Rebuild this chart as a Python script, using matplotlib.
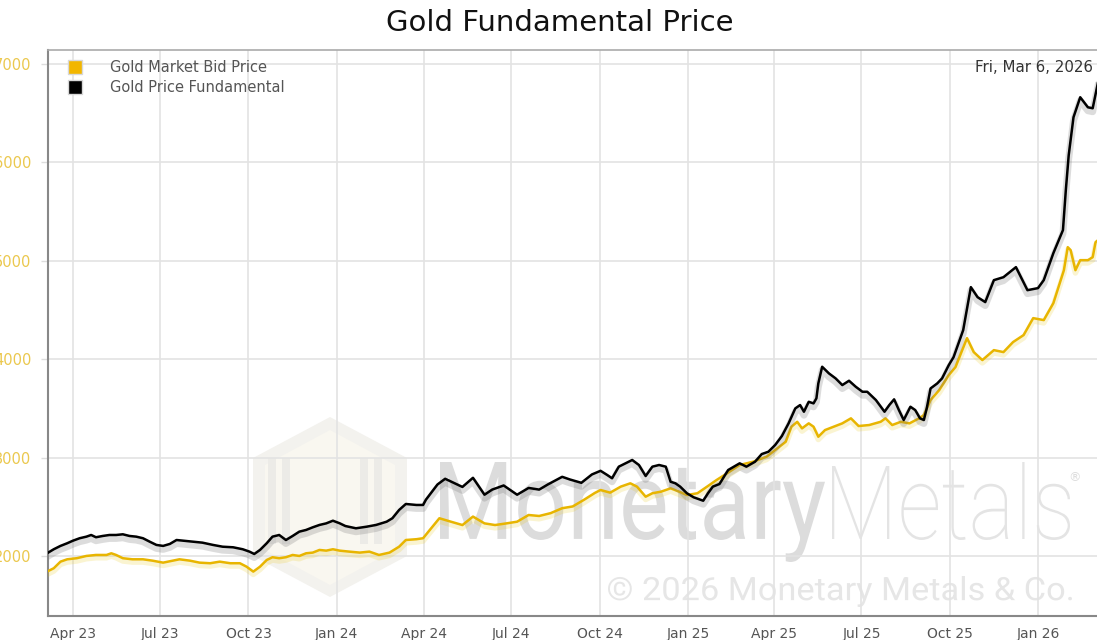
import numpy as np
import pandas as pd
import matplotlib
matplotlib.use("Agg")
import matplotlib.pyplot as plt
import matplotlib.dates as mdates
import matplotlib.patheffects as pe
from matplotlib.textpath import TextPath
from matplotlib.font_manager import FontProperties
from matplotlib.patches import PathPatch, Polygon, Rectangle
from matplotlib.transforms import Affine2D
from matplotlib.lines import Line2D

# --- data (weekly-ish samples) ---
fund_dates = [
    "2023-03-05", "2023-03-12", "2023-03-19", "2023-03-26", "2023-04-01", "2023-04-08", "2023-04-15",
    "2023-04-20", "2023-04-25", "2023-05-02", "2023-05-09", "2023-05-16", "2023-05-23", "2023-05-30",
    "2023-06-06", "2023-06-13", "2023-06-20", "2023-06-27", "2023-07-04", "2023-07-11", "2023-07-18",
    "2023-07-25", "2023-08-04", "2023-08-14", "2023-08-25", "2023-09-04", "2023-09-15", "2023-09-25",
    "2023-10-02", "2023-10-07", "2023-10-13", "2023-10-20", "2023-10-26", "2023-11-02", "2023-11-09",
    "2023-11-16", "2023-11-23", "2023-11-30", "2023-12-07", "2023-12-14", "2023-12-21", "2023-12-28",
    "2024-01-04", "2024-01-10", "2024-01-21", "2024-02-01", "2024-02-11", "2024-02-22", "2024-02-28",
    "2024-03-06", "2024-03-13", "2024-03-24", "2024-03-31", "2024-04-03", "2024-04-15", "2024-04-23",
    "2024-05-02", "2024-05-11", "2024-05-22", "2024-06-03", "2024-06-11", "2024-06-23", "2024-07-07",
    "2024-07-19", "2024-07-30", "2024-08-08", "2024-08-23", "2024-08-31", "2024-09-12", "2024-09-23",
    "2024-10-02", "2024-10-09", "2024-10-14", "2024-10-21", "2024-10-28", "2024-11-04", "2024-11-11",
    "2024-11-18", "2024-11-25", "2024-12-02", "2024-12-09", "2024-12-14", "2024-12-19", "2024-12-24",
    "2024-12-31", "2025-01-07", "2025-01-17", "2025-01-22", "2025-01-27", "2025-02-03", "2025-02-12",
    "2025-02-24", "2025-03-03", "2025-03-12", "2025-03-19", "2025-03-26", "2025-04-02", "2025-04-09",
    "2025-04-16", "2025-04-23", "2025-04-28", "2025-05-02", "2025-05-07", "2025-05-12", "2025-05-15",
    "2025-05-17", "2025-05-21", "2025-05-28", "2025-06-04", "2025-06-11", "2025-06-18", "2025-06-25",
    "2025-07-02", "2025-07-07", "2025-07-16", "2025-07-25", "2025-07-30", "2025-08-04", "2025-08-09",
    "2025-08-14", "2025-08-21", "2025-08-26", "2025-08-31", "2025-09-04", "2025-09-07", "2025-09-11",
    "2025-09-18", "2025-09-23", "2025-09-30", "2025-10-05", "2025-10-15", "2025-10-23", "2025-10-30",
    "2025-11-07", "2025-11-16", "2025-11-26", "2025-12-09", "2025-12-21", "2026-01-01", "2026-01-07",
    "2026-01-17", "2026-01-27", "2026-01-30", "2026-02-02", "2026-02-07", "2026-02-14", "2026-02-22",
    "2026-02-27", "2026-03-06",
]
fund_vals = [
    2027, 2068, 2102, 2129, 2155, 2180, 2196,
    2213, 2190, 2203, 2213, 2213, 2220, 2203,
    2196, 2180, 2145, 2112, 2102, 2122, 2162,
    2155, 2145, 2135, 2112, 2094, 2088, 2068,
    2044, 2020, 2061, 2129, 2196, 2213, 2162,
    2203, 2247, 2264, 2291, 2315, 2331, 2358,
    2332, 2304, 2281, 2297, 2315, 2348, 2383,
    2467, 2528, 2518, 2518, 2572, 2726, 2784,
    2743, 2701, 2794, 2622, 2674, 2716, 2622,
    2691, 2674, 2726, 2804, 2777, 2743, 2828,
    2865, 2822, 2789, 2907, 2941, 2975, 2924,
    2812, 2907, 2924, 2907, 2754, 2738, 2704,
    2637, 2596, 2561, 2637, 2704, 2731, 2873,
    2941, 2907, 2957, 3035, 3059, 3127, 3218,
    3347, 3499, 3533, 3465, 3566, 3550, 3601,
    3753, 3922, 3855, 3804, 3736, 3780, 3719,
    3668, 3668, 3584, 3465, 3533, 3591, 3482,
    3381, 3516, 3482, 3398, 3381, 3499, 3702,
    3753, 3804, 3939, 4020, 4294, 4731, 4629,
    4579, 4802, 4832, 4934, 4700, 4721, 4802,
    5076, 5310, 5716, 6071, 6457, 6660, 6558,
    6548, 6880,
]

bid_dates = [
    "2023-03-05", "2023-03-12", "2023-03-19", "2023-03-26", "2023-04-05", "2023-04-15", "2023-04-25",
    "2023-05-06", "2023-05-11", "2023-05-16", "2023-05-23", "2023-06-02", "2023-06-13", "2023-06-23",
    "2023-07-04", "2023-07-14", "2023-07-21", "2023-08-01", "2023-08-11", "2023-08-22", "2023-09-01",
    "2023-09-12", "2023-09-22", "2023-09-29", "2023-10-06", "2023-10-13", "2023-10-20", "2023-10-26",
    "2023-11-02", "2023-11-09", "2023-11-16", "2023-11-23", "2023-11-30", "2023-12-07", "2023-12-14",
    "2023-12-21", "2023-12-28", "2024-01-04", "2024-01-14", "2024-01-25", "2024-02-04", "2024-02-14",
    "2024-02-25", "2024-03-06", "2024-03-13", "2024-03-24", "2024-03-31", "2024-04-07", "2024-04-17",
    "2024-04-29", "2024-05-11", "2024-05-22", "2024-06-03", "2024-06-14", "2024-06-26", "2024-07-07",
    "2024-07-19", "2024-07-30", "2024-08-11", "2024-08-23", "2024-09-03", "2024-09-15", "2024-09-26",
    "2024-10-02", "2024-10-12", "2024-10-23", "2024-11-02", "2024-11-09", "2024-11-18", "2024-11-25",
    "2024-12-04", "2024-12-14", "2024-12-23", "2024-12-31", "2025-01-11", "2025-01-21", "2025-01-31",
    "2025-02-11", "2025-02-24", "2025-03-10", "2025-03-24", "2025-04-02", "2025-04-13", "2025-04-19",
    "2025-04-25", "2025-04-30", "2025-05-07", "2025-05-12", "2025-05-17", "2025-05-24", "2025-06-02",
    "2025-06-11", "2025-06-20", "2025-06-28", "2025-07-09", "2025-07-21", "2025-07-26", "2025-08-02",
    "2025-08-11", "2025-08-20", "2025-08-30", "2025-09-04", "2025-09-11", "2025-09-20", "2025-09-30",
    "2025-10-07", "2025-10-14", "2025-10-19", "2025-10-26", "2025-11-04", "2025-11-16", "2025-11-26",
    "2025-12-06", "2025-12-17", "2025-12-27", "2026-01-07", "2026-01-17", "2026-01-28", "2026-02-01",
    "2026-02-04", "2026-02-09", "2026-02-14", "2026-02-22", "2026-02-27", "2026-03-02", "2026-03-06",
]
bid_vals = [
    1841, 1875, 1942, 1966, 1977, 2000, 2010,
    2010, 2027, 2010, 1977, 1966, 1966, 1952,
    1932, 1952, 1966, 1952, 1932, 1926, 1942,
    1926, 1926, 1891, 1841, 1891, 1959, 1987,
    1977, 1987, 2010, 2000, 2027, 2034, 2061,
    2054, 2068, 2054, 2044, 2034, 2044, 2010,
    2034, 2094, 2162, 2170, 2180, 2264, 2383,
    2348, 2314, 2400, 2331, 2314, 2331, 2348,
    2416, 2406, 2435, 2485, 2503, 2572, 2640,
    2670, 2643, 2704, 2738, 2704, 2602, 2637,
    2653, 2687, 2653, 2619, 2637, 2704, 2772,
    2840, 2924, 2957, 3008, 3076, 3160, 3313,
    3363, 3296, 3347, 3313, 3211, 3279, 3313,
    3347, 3398, 3320, 3330, 3363, 3398, 3330,
    3363, 3347, 3398, 3431, 3584, 3685, 3838,
    3919, 4091, 4213, 4071, 3990, 4091, 4071,
    4173, 4244, 4416, 4396, 4568, 4903, 5137,
    5107, 4903, 5005, 5005, 5035, 5188, 5220,
]

tick_dates = ["2023-04-01", "2023-07-01", "2023-10-01", "2024-01-01", "2024-04-01", "2024-07-01",
              "2024-10-01", "2025-01-01", "2025-04-01", "2025-07-01", "2025-10-01", "2026-01-01"]
tick_labels = ["Apr 23", "Jul 23", "Oct 23", "Jan 24", "Apr 24", "Jul 24",
               "Oct 24", "Jan 25", "Apr 25", "Jul 25", "Oct 25", "Jan 26"]
y_ticks = [2000, 3000, 4000, 5000, 6000, 7000]

GOLD = "#e8b500"
W, H = 1097, 640

fig = plt.figure(figsize=(W / 100, H / 100), dpi=100)
fig.patch.set_facecolor("white")

# background layer in pixel coords for the watermark
bg = fig.add_axes([0, 0, 1, 1], zorder=0)
bg.set_xlim(0, W)
bg.set_ylim(H, 0)
bg.axis("off")


def fit_text(s, x0, x1, ytop, ybot, color, family="Roboto", weight="normal"):
    tp = TextPath((0, 0), s, size=100, prop=FontProperties(family=family, weight=weight))
    ext = tp.get_extents()
    sx = (x1 - x0) / ext.width
    sy = (ybot - ytop) / ext.height
    tr = Affine2D().translate(-ext.x0, -ext.y1).scale(sx, -sy).translate(x0, ytop)
    bg.add_patch(PathPatch(tr.transform_path(tp), fc=color, ec="none", zorder=1))


# logo hexagon
hexagon = [(330, 417), (407, 458), (407, 556), (330, 597), (253, 556), (253, 458)]
bg.add_patch(Polygon(hexagon, closed=True, fc="#f3f2ee", ec="none", zorder=1))
inner = [(330, 430), (395, 465), (395, 550), (330, 585), (265, 550), (265, 465)]
bg.add_patch(Polygon(inner, closed=True, fc="#f9f7f0", ec="none", zorder=1))
for bx in [268, 282, 360, 374]:
    bg.add_patch(Rectangle((bx, 458), 8, 86, fc="#ecebe7", ec="none", zorder=1))

fit_text("Monetary", 440, 825, 462, 562, "#dcdcdc")
fit_text("Metals", 832, 1070, 462, 540, "#e4e4e4", weight="light")
bg.text(1075, 478, "\u00ae", fontsize=9, color="#dddddd", ha="center", va="center")
fit_text("\u00a9 2026 Monetary Metals & Co.", 608, 1072, 576, 607, "#e6e6e6")

# main chart
left, right = 48, 1099.4
top, bottom = 50, 615.5
ax = fig.add_axes([left / W, (H - bottom) / H, (right - left) / W, (bottom - top) / H], zorder=1)
ax.set_facecolor("none")

fd = pd.to_datetime(fund_dates)
bd = pd.to_datetime(bid_dates)

ax.plot(bd, bid_vals, color=GOLD, lw=1.8, solid_joinstyle="round", zorder=3,
        path_effects=[pe.SimpleLineShadow(offset=(0, -2), shadow_color="#e8c400", alpha=0.18, linewidth=4),
                      pe.Normal()])
ax.plot(fd, fund_vals, color="black", lw=1.8, solid_joinstyle="round", zorder=4,
        path_effects=[pe.SimpleLineShadow(offset=(0, -2.5), shadow_color="#777777", alpha=0.25, linewidth=5),
                      pe.Normal()])

ax.set_xlim(pd.Timestamp("2023-03-06"), pd.Timestamp("2026-03-06"))
ax.set_ylim(1395, 7140)

ax.set_xticks(pd.to_datetime(tick_dates))
ax.set_xticklabels(tick_labels)
ax.set_yticks(y_ticks)
ax.tick_params(axis="x", length=0, pad=8, labelsize=10, labelcolor="#555555")
ax.tick_params(axis="y", length=5, width=1, color="#dddddd", pad=7, labelsize=10.5, labelcolor="#ebc84e")
ax.grid(True, color="#e3e3e3", lw=1.2, zorder=0)
ax.set_axisbelow(True)

for side in ["left", "bottom"]:
    ax.spines[side].set_color("#888888")
    ax.spines[side].set_linewidth(1.5)
ax.spines["top"].set_color("#aaaaaa")
ax.spines["top"].set_linewidth(1.2)
ax.spines["right"].set_visible(False)

handles = [
    Line2D([], [], ls="none", marker="s", ms=10, mfc="#f2b600", mec="#d8d8d8", mew=1),
    Line2D([], [], ls="none", marker="s", ms=10, mfc="black", mec="#d8d8d8", mew=1),
]
ax.legend(handles, ["Gold Market Bid Price", "Gold Price Fundamental"], loc="upper left",
          bbox_to_anchor=(0.0187, 0.982), borderaxespad=0, borderpad=0, frameon=False,
          handlelength=1, handletextpad=1.9, labelspacing=0.32, fontsize=10.5, labelcolor="#555555")

ax.text(0.9935, 0.983, "Fri, Mar 6, 2026", transform=ax.transAxes, ha="right", va="top",
        fontsize=10.8, color="#333333")

fig.text(560 / W, 1 - 23 / H, "Gold Fundamental Price", ha="center", va="center",
         fontsize=21, color="#111111")

fig.savefig("out.png", dpi=100)
